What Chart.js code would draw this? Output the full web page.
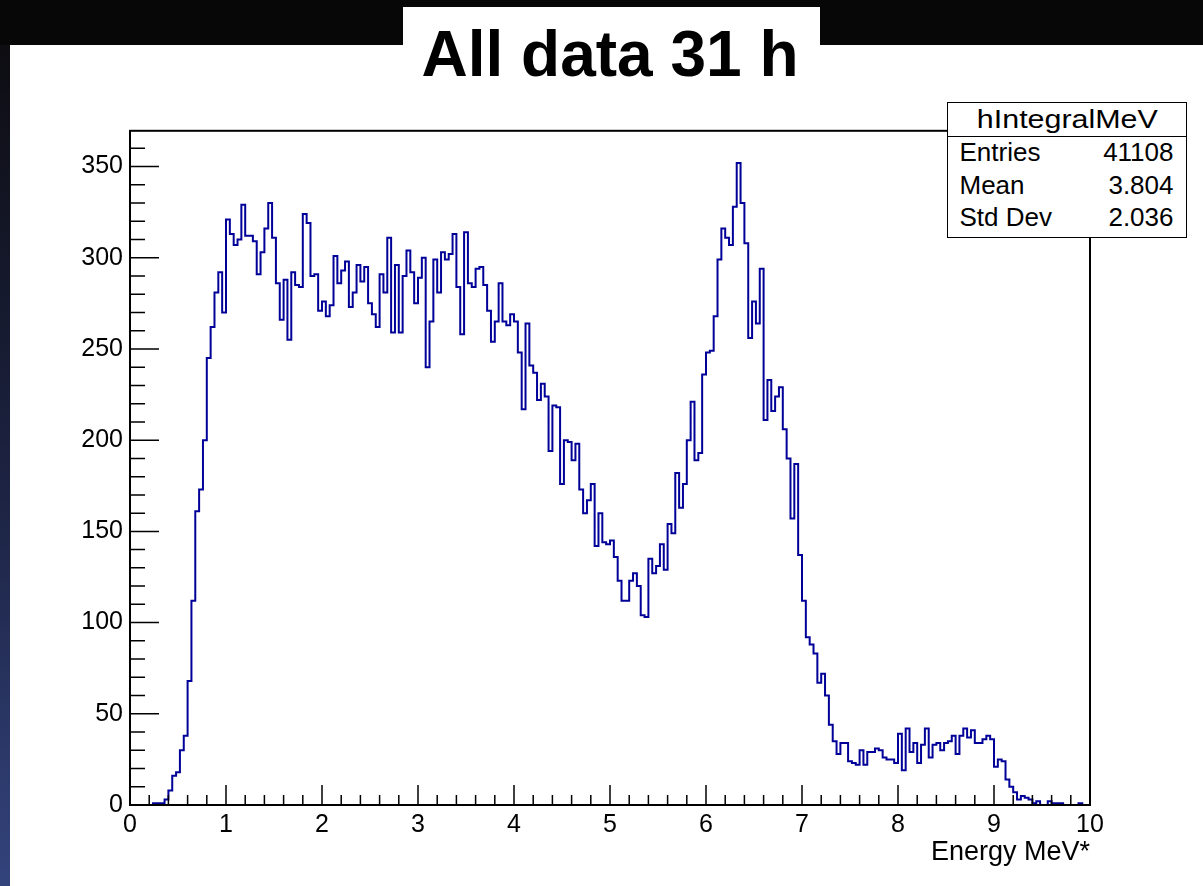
<!DOCTYPE html>
<html>
<head>
<meta charset="utf-8">
<title>All data 31 h</title>
<script src="https://cdn.jsdelivr.net/npm/chart.js@4.4.1/dist/chart.umd.min.js"></script>
<style>
  html, body { margin: 0; padding: 0; width: 1203px; height: 886px; overflow: hidden; background: #070707; }
  #edge { position: absolute; left: 0; top: 45px; width: 10px; height: 841px;
          background: linear-gradient(#0d0d12, #1d2444 55%, #33437c); }
  #sheet { position: absolute; left: 10px; top: 45px; width: 1193px; height: 841px; background: #fff; }
  #tab { position: absolute; left: 403px; top: 7px; width: 417px; height: 40px; background: #fff; }
  #plot { position: absolute; left: 0; top: 0; }
  #stats { position: absolute; left: 947px; top: 102px; width: 240px; height: 136px; box-sizing: border-box;
           border: 1.5px solid #000; background: #fff; color: #000;
           font-family: "Liberation Sans", Arial, sans-serif; font-size: 26px; }
  #stats .hdr { height: 33px; line-height: 33px; text-align: center; border-bottom: 1.5px solid #000; }
  #stats .hdr span { display: inline-block; transform: scaleX(1.17); }
  #stats .row { display: flex; justify-content: space-between; height: 32.7px; line-height: 30px;
                padding: 0 12.5px 0 11.5px; }
</style>
</head>
<body>
<div id="edge"></div>
<div id="sheet"></div>
<div id="tab"></div>
<canvas id="plot" width="1203" height="886"></canvas>
<div id="stats">
  <div class="hdr"><span>hIntegralMeV</span></div>
  <div class="row"><span>Entries</span><span>41108</span></div>
  <div class="row"><span>Mean</span><span>3.804</span></div>
  <div class="row"><span>Std Dev</span><span>2.036</span></div>
</div>
<script>
// hIntegralMeV: 250 bins from 0 to 10 MeV, counts split per MeV
var xMin = 0, xMax = 10;
var counts0to1  = [0, 0, 0, 0, 0, 0, 1, 1, 1, 3, 8, 16, 18, 30, 38, 68, 112, 161, 173, 200, 245, 262, 281, 292, 270];
var counts1to2  = [321, 313, 307, 310, 329, 312, 312, 309, 291, 303, 316, 330, 311, 286, 266, 288, 255, 292, 285, 284, 324, 319, 290, 291, 271];
var counts2to3  = [276, 268, 274, 301, 286, 293, 298, 273, 281, 296, 287, 295, 275, 269, 262, 291, 281, 311, 259, 296, 259, 290, 304, 292, 275];
var counts3to4  = [289, 300, 240, 265, 299, 281, 303, 299, 302, 313, 284, 258, 314, 286, 284, 294, 295, 285, 271, 254, 265, 286, 265, 263, 269];
var counts4to5  = [265, 248, 217, 264, 241, 237, 222, 231, 224, 194, 219, 218, 176, 200, 199, 189, 198, 173, 160, 167, 176, 142, 160, 144, 143];
var counts5to6  = [145, 136, 123, 112, 112, 123, 127, 120, 104, 103, 135, 127, 131, 143, 129, 154, 149, 182, 163, 176, 200, 221, 189, 193, 236];
var counts6to7  = [248, 249, 268, 299, 316, 311, 307, 328, 352, 330, 308, 256, 276, 264, 294, 211, 233, 216, 224, 229, 206, 190, 157, 187, 137];
var counts7to8  = [112, 92, 88, 83, 67, 72, 60, 44, 35, 28, 34, 34, 24, 23, 22, 30, 22, 29, 29, 31, 30, 26, 25, 25, 23];
var counts8to9  = [39, 19, 42, 29, 34, 23, 33, 42, 26, 33, 34, 30, 34, 35, 38, 28, 38, 42, 37, 41, 34, 34, 36, 38, 36];
var counts9to10 = [21, 25, 24, 14, 10, 7, 3, 5, 4, 3, 1, 2, 0, 0, 2, 1, 1, 1, 0, 0, 0, 0, 1, 0, 0];
var yMax = 369.6; // ROOT auto range: 1.05 * peak

var counts = [].concat(counts0to1, counts1to2, counts2to3, counts3to4, counts4to5,
                       counts5to6, counts6to7, counts7to8, counts8to9, counts9to10);
var binWidth = (xMax - xMin) / counts.length;

// stepped line: one point at each bin's low edge, plus the upper edge of the last bin
var histPoints = counts.map(function (c, i) { return { x: xMin + i * binWidth, y: c }; });
histPoints.push({ x: xMax, y: counts[counts.length - 1] });

var FONT = '"Liberation Sans", Arial, Helvetica, sans-serif';

// ROOT style frame: box around the pad plus inward major/minor ticks
var rootFrame = {
    id: 'rootFrame',
    afterDraw: function (chart) {
        var ctx = chart.ctx, a = chart.chartArea;
        var xs = chart.scales.x, ys = chart.scales.y;
        ctx.save();
        ctx.strokeStyle = '#000';
        ctx.lineWidth = 1.5;
        ctx.beginPath();
        for (var i = 0; i <= 50; i++) {
            var px = xs.getPixelForValue(xMin + i * 0.2);
            var lx = (i % 5 === 0) ? 20 : 10;
            ctx.moveTo(px, a.bottom);
            ctx.lineTo(px, a.bottom - lx);
        }
        for (var v = 0; v <= yMax; v += 10) {
            var py = ys.getPixelForValue(v);
            var ly = (v % 50 === 0) ? 29 : 15;
            ctx.moveTo(a.left, py);
            ctx.lineTo(a.left + ly, py);
        }
        ctx.stroke();
        ctx.lineWidth = 2;
        ctx.strokeRect(a.left, a.top, a.right - a.left, a.bottom - a.top);
        ctx.restore();
    }
};

new Chart(document.getElementById('plot'), {
    type: 'line',
    data: {
        datasets: [{
            label: 'hIntegralMeV',
            data: histPoints,
            stepped: 'before',
            borderColor: '#000099',
            borderWidth: 2,
            pointRadius: 0,
            fill: false,
            clip: false
        }]
    },
    options: {
        responsive: false,
        devicePixelRatio: 1,
        animation: false,
        layout: { padding: { left: 0, right: 113, top: 20, bottom: 0 } },
        plugins: {
            legend: { display: false },
            tooltip: { enabled: false },
            title: {
                display: true,
                text: 'All data 31 h',
                fullSize: false,
                color: '#000',
                font: { family: FONT, size: 64, weight: 'bold', lineHeight: 1.2 },
                padding: { top: 0, bottom: 34 }
            }
        },
        scales: {
            x: {
                type: 'linear',
                min: xMin,
                max: xMax,
                grid: { display: false, drawTicks: false },
                border: { display: false },
                ticks: {
                    stepSize: 1,
                    autoSkip: false,
                    maxRotation: 0,
                    padding: 5,
                    color: '#000',
                    font: { family: FONT, size: 25 }
                },
                title: {
                    display: true,
                    text: 'Energy MeV*',
                    align: 'end',
                    color: '#000',
                    font: { family: FONT, size: 27 },
                    padding: { top: 0, bottom: 17 }
                },
                afterFit: function (scale) { scale.height = 81; }
            },
            y: {
                min: 0,
                max: yMax,
                grid: { display: false, drawTicks: false },
                border: { display: false },
                ticks: {
                    stepSize: 50,
                    includeBounds: false,
                    padding: 7,
                    color: '#000',
                    font: { family: FONT, size: 25 }
                },
                afterFit: function (scale) { scale.width = 130; }
            }
        }
    },
    plugins: [rootFrame]
});
</script>
</body>
</html>
